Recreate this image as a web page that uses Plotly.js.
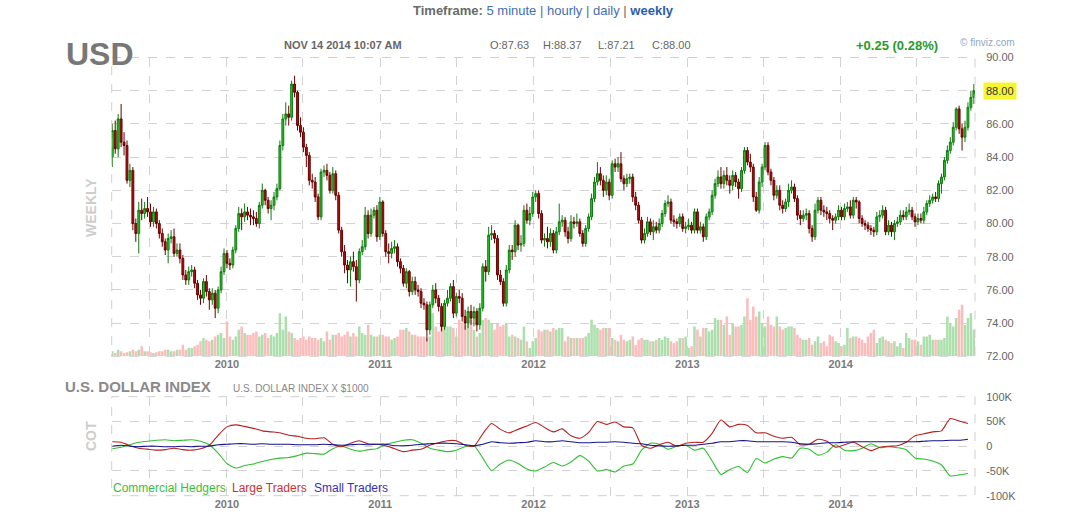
<!DOCTYPE html>
<html>
<head>
<meta charset="utf-8">
<script src="https://cdn.plot.ly/plotly-3.0.1.min.js"></script>
<style>html,body{margin:0;padding:0;background:#fff;}#chart{width:1073px;height:532px;}</style>
</head>
<body>
<div id="chart"></div>
<script>
// ---------- DATA (weekly USD index, first week ending 2009-04-03) ----------
const firstWeek = '2009-04-03';
const firstOpen = 84.0;
const closes = [
85.6,84.5,86.3,84.9,84.7,82.6,83.2,80.0,79.4,80.8,
80.6,80.9,80.7,80.1,80.7,80.0,79.4,78.9,78.4,79.1,
79.2,78.2,78.4,77.9,76.9,76.6,77.1,77.2,76.4,75.7,
75.5,76.5,75.9,75.4,75.8,74.9,76.0,77.1,78.2,77.6,
77.5,78.4,79.7,80.6,80.4,80.7,80.5,80.4,80.3,80.0,
81.1,82.0,81.4,80.9,81.1,81.6,82.1,84.7,86.3,86.6,
86.4,88.4,87.9,85.9,85.5,84.6,84.1,82.6,82.5,81.6,
80.4,83.1,83.2,82.9,82.0,83.0,81.7,79.6,78.3,77.5,
77.2,77.7,77.4,76.6,78.3,78.6,80.5,79.4,80.5,80.8,
79.2,81.3,79.4,78.3,78.2,78.5,78.6,77.7,77.3,76.4,
77.1,75.9,76.5,76.0,75.9,75.2,75.1,73.6,75.1,76.0,
75.5,75.0,73.8,75.2,75.5,76.2,74.6,75.6,75.5,74.4,
74.0,74.7,74.3,74.7,73.9,74.9,77.4,77.1,79.3,79.4,
79.1,76.9,76.5,75.2,77.2,78.4,78.3,79.9,78.7,78.8,
80.8,80.2,80.6,81.6,81.8,80.6,79.0,79.1,78.9,79.4,
78.4,79.5,80.1,80.2,79.5,79.1,80.1,80.0,80.1,79.4,
78.8,79.7,80.4,81.5,82.5,83.0,82.6,82.0,82.5,81.7,
83.6,83.4,83.6,82.7,82.4,82.7,82.8,81.6,81.1,80.2,
79.0,79.4,80.1,79.5,79.8,79.6,80.0,80.6,81.2,81.3,
80.2,80.1,80.0,80.4,79.7,79.8,79.9,79.6,80.7,79.6,
79.8,79.2,80.4,80.7,81.7,82.4,82.8,82.4,82.9,82.6,
82.3,82.9,82.5,82.1,83.2,84.4,83.7,83.4,81.6,80.8,
82.5,83.4,84.7,83.1,82.6,81.7,82.0,81.1,80.9,81.3,
82.0,82.2,81.5,80.5,80.3,80.5,80.6,79.7,79.2,80.8,
81.4,80.8,80.7,80.6,80.3,80.2,80.4,80.8,80.4,80.9,
81.0,80.5,81.4,81.3,80.3,80.0,79.9,79.7,79.6,79.5,
80.4,80.5,80.8,79.5,79.9,79.5,80.0,80.1,80.5,80.4,
80.7,80.8,80.4,80.1,80.3,80.2,80.7,81.2,81.4,81.6,
81.5,82.4,82.8,83.8,84.4,84.9,85.8,86.9,85.7,85.2,
85.8,87.0,87.6,88.0
];
const highs = [
86.0,86.2,86.6,87.2,85.5,85.0,83.6,83.4,80.3,81.3,
81.5,81.3,81.6,81.2,81.0,80.9,80.2,79.7,79.1,79.4,
79.6,79.7,78.8,78.8,78.1,77.2,77.4,77.5,77.4,76.6,
76.0,76.7,76.9,76.1,76.1,76.0,76.2,77.4,78.5,78.4,
77.9,78.6,79.9,81.0,80.9,81.2,81.0,80.9,80.8,80.7,
81.3,82.4,82.1,81.6,81.4,81.9,82.4,85.0,86.6,87.3,
87.1,88.6,88.9,88.0,86.4,85.8,84.8,84.3,83.0,82.8,
81.8,83.3,83.5,83.6,83.1,83.4,83.2,81.9,79.8,78.7,
77.8,78.0,78.3,77.8,78.5,79.0,81.0,80.8,80.9,81.0,
81.1,81.6,81.4,79.6,78.8,78.9,79.0,78.8,77.9,77.5,
77.3,77.2,76.8,76.8,76.3,76.1,75.5,75.3,75.3,76.3,
76.4,75.7,75.2,75.4,76.0,76.4,76.6,75.8,76.0,75.8,
74.8,75.0,75.1,75.0,74.9,75.2,77.6,77.8,79.8,79.9,
79.6,79.3,77.2,76.7,77.5,78.7,78.7,80.2,80.0,79.3,
81.1,81.2,81.0,81.9,82.0,82.0,80.8,79.4,79.8,79.7,
79.6,79.8,81.2,80.5,80.4,79.8,80.5,80.4,80.6,80.3,
79.6,79.9,80.6,81.8,82.8,83.7,83.4,82.9,82.9,82.7,
83.8,83.9,84.0,84.3,82.9,83.0,83.0,83.0,81.9,81.3,
80.4,79.7,80.4,80.3,80.2,80.1,80.3,80.8,81.4,81.7,
81.5,80.5,80.3,80.6,80.6,80.1,80.3,80.1,80.9,80.9,
80.1,80.0,80.6,80.9,82.0,82.7,83.2,83.4,83.2,83.4,
82.9,83.2,83.1,82.7,83.4,84.6,84.6,84.2,83.6,81.9,
82.8,83.6,84.9,84.9,83.3,82.8,82.3,82.3,81.4,81.5,
82.4,82.6,82.4,81.7,80.8,80.8,80.9,80.8,79.9,81.2,
81.6,81.6,81.1,81.0,80.8,80.5,80.6,81.1,81.0,81.2,
81.3,81.4,81.6,81.6,81.4,80.5,80.2,80.1,79.9,79.8,
80.7,80.8,81.1,81.0,80.2,80.1,80.2,80.4,80.8,80.8,
81.0,81.2,81.0,80.6,80.6,80.6,81.0,81.4,81.7,81.8,
81.9,82.6,83.0,84.0,84.7,85.2,86.1,87.0,87.1,86.0,
86.2,87.3,88.0,88.4
];
const lows = [
83.4,84.2,84.0,84.6,84.1,82.4,82.2,79.6,78.9,78.2,
80.2,80.3,80.4,79.8,79.8,79.7,79.1,78.6,78.1,77.6,
78.8,78.0,78.0,77.6,76.6,76.3,76.3,76.8,76.1,75.4,
75.1,75.2,75.6,74.8,75.1,74.3,74.6,75.8,76.9,77.3,
77.2,77.3,78.2,79.5,79.6,80.1,80.2,79.9,79.9,79.8,
79.7,80.9,81.1,80.6,80.2,80.8,81.4,82.0,84.4,85.9,
85.9,86.2,87.6,85.6,85.2,84.3,83.4,82.3,82.1,81.3,
80.2,80.2,82.8,82.6,81.8,81.8,81.4,79.4,78.0,77.0,
76.4,76.2,77.1,75.3,76.4,78.1,78.4,79.1,79.2,80.3,
78.9,79.0,79.2,78.0,77.6,77.9,78.2,77.4,77.0,76.2,
76.1,75.6,75.7,75.7,75.6,74.9,74.8,72.9,73.3,74.9,
75.2,74.7,73.5,73.6,75.0,75.3,74.3,74.4,75.2,74.1,
73.6,73.7,73.9,73.8,73.5,73.6,74.7,76.5,76.9,79.0,
78.8,76.6,76.3,75.0,75.0,77.0,77.8,78.0,78.4,78.3,
78.6,80.0,79.9,80.4,81.3,80.3,78.8,78.6,78.5,78.6,
78.2,78.2,79.3,79.8,79.2,78.8,78.9,79.7,79.8,79.2,
78.6,78.6,79.5,80.2,81.3,82.3,82.3,81.6,81.7,81.4,
81.5,83.1,83.1,82.5,82.0,82.2,82.4,81.3,80.8,80.0,
78.8,78.8,79.2,79.3,79.0,79.4,79.4,79.8,80.4,81.0,
80.0,79.8,79.7,79.8,79.5,79.4,79.6,79.4,79.4,79.4,
79.4,78.9,79.0,80.2,80.5,81.5,82.2,82.1,82.1,82.3,
81.8,82.0,82.2,81.5,81.9,83.0,83.5,83.1,81.3,80.7,
80.6,82.2,83.2,82.9,82.3,81.4,81.5,80.8,80.6,80.7,
81.0,81.8,81.3,80.2,79.9,80.1,80.2,79.4,78.9,79.0,
80.6,80.5,80.4,80.2,80.0,79.6,80.0,80.2,80.2,80.2,
80.7,80.3,80.3,80.9,80.0,79.8,79.6,79.5,79.3,79.2,
79.3,80.1,80.3,79.3,79.3,79.2,79.0,79.8,79.9,80.2,
80.2,80.5,80.2,79.8,79.9,80.0,80.0,80.5,81.0,81.2,
81.3,81.3,81.8,82.6,83.6,84.2,84.7,85.6,85.4,84.4,
84.9,85.6,86.8,87.2
];
const volumes = [
15,10,20,15,10,12,15,20,15,20,
30,15,15,12,10,12,15,15,20,20,
15,15,20,20,35,20,25,25,30,35,
45,55,50,45,50,60,65,70,55,105,
60,50,60,80,90,70,65,65,70,75,
60,65,70,55,65,60,70,130,80,120,
75,70,55,50,55,60,50,60,55,55,
50,55,45,75,50,65,65,70,60,65,
75,60,70,60,90,70,65,95,65,60,
60,65,65,60,60,50,55,60,80,80,
85,75,65,65,60,60,60,55,60,130,
90,75,100,90,90,90,85,60,110,100,
95,100,110,80,60,70,110,115,110,100,
80,100,90,95,100,60,65,60,55,50,
90,45,25,45,55,80,75,80,80,75,
85,80,85,85,45,60,55,55,55,55,
55,60,70,110,95,85,80,85,85,85,
55,50,45,65,50,45,50,60,35,50,
55,50,50,45,45,50,55,50,60,55,
45,40,45,55,55,60,25,30,90,80,
60,85,85,75,80,115,110,110,95,120,
65,100,90,90,95,120,175,110,150,120,
135,100,90,120,95,90,120,90,80,85,
90,90,85,65,55,50,50,55,35,45,
60,40,45,30,65,60,45,40,30,35,
85,55,60,60,55,50,40,60,70,80,
40,55,60,50,45,40,45,30,40,25,
70,55,50,50,45,35,60,60,65,50,
50,50,50,55,120,100,90,115,140,155,
95,115,130,80
];
// COT net positions (thousands of contracts), one reading every 3 weeks from firstWeek
const cotStepWeeks = 3;
const commercialHedgers = [
-5,-2,3,8,10,12,13,11,12,13, 10,3,-14,-35,-44,-39,-36,-31,-27,-24,
-23,-19,-14,-15,-16,-5,0,-6,-10,-7, -5,4,8,12,13,6,-4,-8,-11,-8,
-1,1,-24,-49,-36,-28,-35,-46,
-50,-42,-33,-40,-32,-19,-30,-50,-47,-52, -40,-36,-8,6,4,-6,0,2,-8,-4,
-30,-57,-47,-41,-53,-25,-34,-26,-21,-24, -4,-6,-18,-12,3,-8,-9,-4,5,-3,
-1,-3,-7,-24,-26,-30,-38,-60,-58,-55
];
const largeTraders = [
9,8,1,-4,-6,-8,-7,-4,-7,-8, -5,2,22,39,43,40,36,31,29,27,
22,20,16,15,17,4,-1,6,11,5, 4,1,-5,-11,-8,-6,2,7,11,11,
2,0,25,46,34,27,34,41,
48,38,29,35,21,16,28,50,44,49, 39,37,2,-4,3,8,0,6,8,8,
26,53,39,44,42,27,27,20,16,18, 3,4,14,10,-2,3,8,-1,-9,-2,
0,1,8,21,25,29,31,56,51,46
];
const smallTraders = [
0,2,0,-1,0,0,-1,-1,0,-1, 0,0,3,4,5,5,4,5,4,4,
4,3,3,3,4,3,2,3,4,3, 4,4,1,1,2,4,5,6,6,5,
3,1,4,9,7,6,7,8,
11,9,9,11,9,7,7,8,8,9, 8,6,5,2,1,0,1,2,2,4,
6,9,9,11,11,9,9,9,9,8, 5,4,5,7,7,8,9,9,9,9,
9,9,9,9,10,11,11,12,12,14
];
const gridDates = ['2009-07-01','2010-01-01','2010-07-01','2011-01-01','2011-07-01','2012-01-01',
                   '2012-07-01','2013-01-01','2013-07-01','2014-01-01','2014-07-01'];
const gridLabels = ['','2010','','2011','','2012','','2013','','2014',''];
const priceTicks = [72,74,76,78,80,82,84,86,88,90];
const cotTicks = [-100,-50,0,50,100];
const cotTickLabels = ['-100K','-50K','0','50K','100K'];

// ---------- BUILD ----------
const DAY = 864e5;
const t0 = Date.parse(firstWeek + 'T00:00:00Z');
function weekDate(w){ return new Date(t0 + w*7*DAY).toISOString().slice(0,19).replace('T',' '); }
const dates = closes.map((_, i) => weekDate(i));
const opens = closes.map((c, i) => i === 0 ? firstOpen : closes[i-1]);
const volColors = closes.map((c, i) => c >= opens[i] ? '#abdfab' : '#fbbcbc');
const cotDates = commercialHedgers.map((_, k) => weekDate(k*cotStepWeeks));

const FONT = 'Liberation Sans, Arial, sans-serif';
const X0 = 111.7/1073, X1 = 975/1073;
const PY0 = 1-356.3/532, PY1 = 1-57.5/532;
const CY0 = 1-495.7/532, CY1 = 1-396.7/532;
const P = x => x/1073, Q = y => 1 - y/532;

const traces = [
  {type:'bar', x:dates, y:volumes, xaxis:'x', yaxis:'y', marker:{color:volColors, line:{width:0}},
   width:6*DAY, hoverinfo:'skip'},
  {type:'candlestick', x:dates, open:opens, high:highs, low:lows, close:closes, xaxis:'x', yaxis:'y2',
   increasing:{line:{color:'#0e7a0e', width:1}, fillcolor:'#26c926'},
   decreasing:{line:{color:'#6a0000', width:1}, fillcolor:'#b30f0f'},
   whiskerwidth:0, hoverinfo:'x+y'},
  {type:'scatter', mode:'lines', x:cotDates, y:commercialHedgers, xaxis:'x2', yaxis:'y3',
   line:{color:'#2fbf2f', width:1.1, shape:'spline', smoothing:0.6}},
  {type:'scatter', mode:'lines', x:cotDates, y:largeTraders, xaxis:'x2', yaxis:'y3',
   line:{color:'#b82020', width:1.1, shape:'spline', smoothing:0.6}},
  {type:'scatter', mode:'lines', x:cotDates, y:smallTraders, xaxis:'x2', yaxis:'y3',
   line:{color:'#14148c', width:1.1, shape:'spline', smoothing:0.6}}
];

const xRange = [weekDate(-0.2), weekDate(293.4)];
const gridStyle = {showgrid:true, gridcolor:'#d3d3d3', griddash:'dash', gridwidth:1, zeroline:false};
const xTickFont = {family:FONT, size:11, color:'#7a7a7a'};

const layout = {
  width:1073, height:532, margin:{l:0,r:0,t:0,b:0},
  paper_bgcolor:'#ffffff', plot_bgcolor:'#ffffff', showlegend:false,
  boxgap:0.1,
  font:{family:FONT, color:'#666'},
  xaxis: Object.assign({domain:[X0,X1], anchor:'y', type:'date', range:xRange,
    tickmode:'array', tickvals:gridDates, ticktext:gridLabels.map(s=>s?'<b>'+s+'</b>':''),
    tickfont:xTickFont, ticks:'', rangeslider:{visible:false}, fixedrange:true}, gridStyle),
  yaxis: {domain:[PY0,PY1], anchor:'x', range:[0,900], visible:false, showgrid:false, fixedrange:true},
  yaxis2: Object.assign({overlaying:'y', side:'right', anchor:'x', range:[72,90],
    tickmode:'array', tickvals:priceTicks, ticktext:priceTicks.map(v=>v.toFixed(2)),
    tickfont:{family:FONT, size:11, color:'#666'}, ticks:'outside', ticklen:8, tickcolor:'rgba(0,0,0,0)',
    fixedrange:true}, gridStyle),
  xaxis2: Object.assign({domain:[X0,X1], anchor:'y3', type:'date', matches:'x',
    tickmode:'array', tickvals:gridDates, ticktext:gridLabels.map(s=>s?'<b>'+s+'</b>':''),
    tickfont:xTickFont, ticks:'', fixedrange:true}, gridStyle),
  yaxis3: Object.assign({domain:[CY0,CY1], anchor:'x2', side:'right', range:[-100,100],
    tickmode:'array', tickvals:cotTicks, ticktext:cotTickLabels,
    tickfont:{family:FONT, size:11, color:'#666'}, ticks:'outside', ticklen:8, tickcolor:'rgba(0,0,0,0)',
    fixedrange:true}, gridStyle),
  shapes:[
    {type:'rect', xref:'paper', yref:'paper', x0:X0, x1:X1, y0:PY0, y1:PY1,
     line:{color:'#cfcfcf', width:1, dash:'dash'}, layer:'above'},
    {type:'rect', xref:'paper', yref:'paper', x0:X0, x1:X1, y0:CY0, y1:CY1,
     line:{color:'#cfcfcf', width:1, dash:'dash'}, layer:'above'}
  ],
  annotations:[
    {xref:'paper', yref:'paper', x:P(543), y:Q(10), xanchor:'center', yanchor:'middle', showarrow:false,
     font:{family:FONT, size:13, color:'#6a6a6a'},
     text:'<b>Timeframe:</b> <span style="color:#3f6fb0">5 minute</span> | <span style="color:#3f6fb0">hourly</span> | <span style="color:#3f6fb0">daily</span> | <b><span style="color:#2e5ea8">weekly</span></b>'},
    {xref:'paper', yref:'paper', x:P(64), y:Q(54), xanchor:'left', yanchor:'middle', showarrow:false,
     font:{family:FONT, size:32, color:'#777'}, text:'<b>USD</b>'},
    {xref:'paper', yref:'paper', x:P(282), y:Q(45), xanchor:'left', yanchor:'middle', showarrow:false,
     font:{family:FONT, size:11, color:'#666'}, text:'<b>NOV 14 2014 10:07 AM</b>'},
    {xref:'paper', yref:'paper', x:P(488), y:Q(45), xanchor:'left', yanchor:'middle', showarrow:false,
     font:{family:FONT, size:11, color:'#666'}, text:'O:87.63'},
    {xref:'paper', yref:'paper', x:P(541), y:Q(45), xanchor:'left', yanchor:'middle', showarrow:false,
     font:{family:FONT, size:11, color:'#666'}, text:'H:88.37'},
    {xref:'paper', yref:'paper', x:P(596), y:Q(45), xanchor:'left', yanchor:'middle', showarrow:false,
     font:{family:FONT, size:11, color:'#666'}, text:'L:87.21'},
    {xref:'paper', yref:'paper', x:P(650), y:Q(45), xanchor:'left', yanchor:'middle', showarrow:false,
     font:{family:FONT, size:11, color:'#666'}, text:'C:88.00'},
    {xref:'paper', yref:'paper', x:P(854), y:Q(45), xanchor:'left', yanchor:'middle', showarrow:false,
     font:{family:FONT, size:13, color:'#2a9a2a'}, text:'<b>+0.25 (0.28%)</b>'},
    {xref:'paper', yref:'paper', x:P(958), y:Q(43), xanchor:'left', yanchor:'middle', showarrow:false,
     font:{family:FONT, size:10, color:'#8fa8c8'}, text:'© finviz.com'},
    {xref:'paper', yref:'y2', x:P(983), y:closes[closes.length-1], xanchor:'left', yanchor:'middle', showarrow:false,
     bgcolor:'#f6f532', borderpad:2, font:{family:FONT, size:11, color:'#333'}, text:closes[closes.length-1].toFixed(2)},
    {xref:'paper', yref:'paper', x:P(91), y:Q(208), xanchor:'center', yanchor:'middle', showarrow:false, textangle:-90,
     font:{family:FONT, size:14, color:'#cdcdcd'}, text:'<b>WEEKLY</b>'},
    {xref:'paper', yref:'paper', x:P(63), y:Q(386), xanchor:'left', yanchor:'middle', showarrow:false,
     font:{family:FONT, size:15, color:'#8a8a8a'}, text:'<b>U.S. DOLLAR INDEX</b>'},
    {xref:'paper', yref:'paper', x:P(231), y:Q(388), xanchor:'left', yanchor:'middle', showarrow:false,
     font:{family:FONT, size:10, color:'#888'}, text:'U.S. DOLLAR INDEX X $1000'},
    {xref:'paper', yref:'paper', x:P(91), y:Q(436), xanchor:'center', yanchor:'middle', showarrow:false, textangle:-90,
     font:{family:FONT, size:14, color:'#cdcdcd'}, text:'<b>COT</b>'},
    {xref:'paper', yref:'paper', x:P(111), y:Q(488), xanchor:'left', yanchor:'middle', showarrow:false,
     font:{family:FONT, size:12, color:'#3cbc3c'}, text:'Commercial Hedgers'},
    {xref:'paper', yref:'paper', x:P(230), y:Q(488), xanchor:'left', yanchor:'middle', showarrow:false,
     font:{family:FONT, size:12, color:'#c83232'}, text:'Large Traders'},
    {xref:'paper', yref:'paper', x:P(312), y:Q(488), xanchor:'left', yanchor:'middle', showarrow:false,
     font:{family:FONT, size:12, color:'#3232b4'}, text:'Small Traders'}
  ]
};

Plotly.newPlot('chart', traces, layout, {displayModeBar:false, staticPlot:true});
</script>
</body>
</html>
